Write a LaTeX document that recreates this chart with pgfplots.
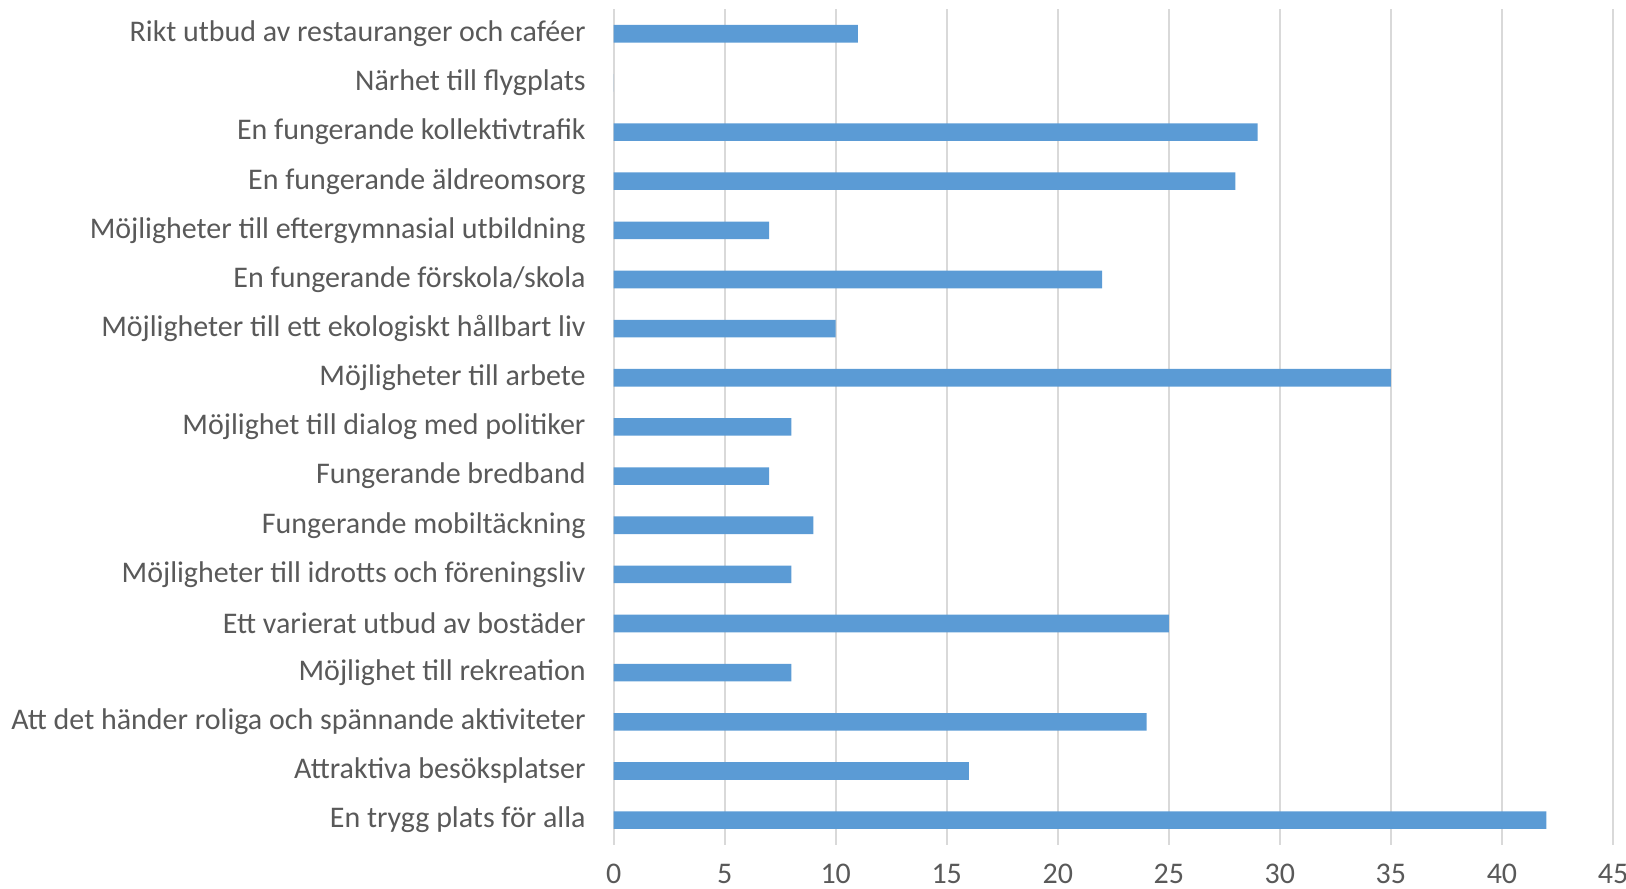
\documentclass[border=0pt]{standalone}
\usepackage{fontspec}
\setmainfont{Carlito}
\usepackage{pgfplots}
\pgfplotsset{compat=1.18}
\definecolor{barblue}{HTML}{5B9BD5}
\definecolor{gridgray}{HTML}{D9D9D9}
\definecolor{txtgray}{HTML}{595959}
\begin{document}
\begin{tikzpicture}
\begin{axis}[
  name=ax,
  xbar,
  scale only axis,
  width=500pt, height=418pt,
  xmin=0, xmax=45,
  ymin=-0.5, ymax=16.5,
  xtick={0,5,...,45},
  ytick={0,...,16},
  yticklabels={
    En trygg plats för alla,
    Attraktiva besöksplatser,
    Att det händer roliga och spännande aktiviteter\ ,
    Möjlighet till rekreation,
    Ett varierat utbud av bostäder,
    Möjligheter till idrotts och föreningsliv,
    Fungerande mobiltäckning,
    Fungerande bredband,
    Möjlighet till dialog med politiker,
    Möjligheter till arbete,
    Möjligheter till ett ekologiskt hållbart liv,
    En fungerande förskola/skola,
    Möjligheter till eftergymnasial utbildning,
    En fungerande äldreomsorg,
    En fungerande kollektivtrafik,
    Närhet till flygplats,
    Rikt utbud av restauranger och caféer},
  axis line style={draw=none},
  major tick length=0pt,
  xmajorgrids,
  ymajorgrids=false,
  grid style={gridgray, line width=1pt},
  tick label style={font=\fontsize{15}{18}\selectfont, text=txtgray},
  /pgf/number format/assume math mode=true,
  yticklabel style={xshift=-10.5pt},
  xticklabel style={inner sep=1pt, yshift=-8.5pt},
  bar width=8.8pt,
]
\addplot[fill=barblue, draw=none] coordinates {
  (42,0) (16,1) (24,2) (8,3) (25,4) (8,5) (9,6) (7,7) (8,8) (35,9)
  (10,10) (22,11) (7,12) (28,13) (29,14) (0,15) (11,16)
};
\end{axis}
\pgfresetboundingbox
\path ([xshift=-307pt, yshift=-22pt]ax.south west) rectangle ([xshift=6.5pt, yshift=4.6pt]ax.north east);
\end{tikzpicture}
\end{document}
